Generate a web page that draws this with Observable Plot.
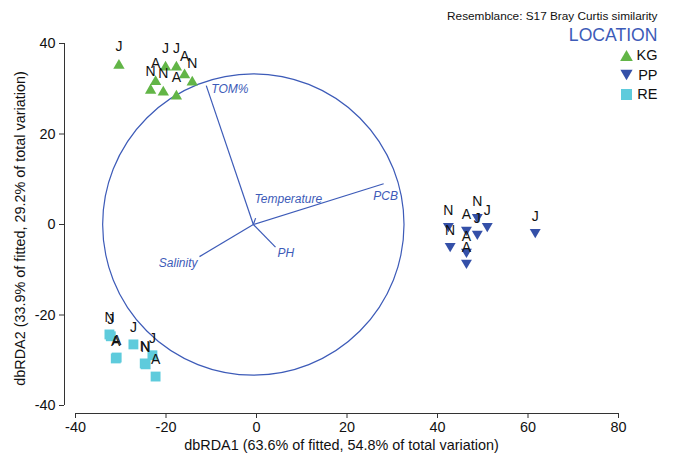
<!DOCTYPE html>
<html>
<head>
<meta charset="utf-8">
<script src="https://cdn.jsdelivr.net/npm/d3@7"></script>
<script src="https://cdn.jsdelivr.net/npm/@observablehq/plot@0.6"></script>
<style>
  html, body { margin: 0; padding: 0; background: #fff; }
  #chart svg { display: block; }
</style>
</head>
<body>
<div id="chart"></div>
<script>
// ---------- data ----------
const locations = ["KG", "PP", "RE"];

const kgX = [-30.4, -20.1, -17.7, -15.9, -14.2, -22.3, -23.4, -20.6, -17.7];
const kgY = [35.5, 35.1, 35.1, 33.4, 31.8, 31.9, 30.0, 29.6, 28.7];
const kgMonth = ["J", "J", "J", "A", "N", "A", "N", "N", "A"];

const ppX = [42.4, 42.8, 46.4, 46.4, 46.4, 48.8, 48.8, 51.0, 61.6];
const ppY = [-0.7, -5.1, -1.5, -6.4, -8.8, 1.3, -2.4, -0.7, -2.0];
const ppMonth = ["N", "N", "A", "A", "A", "N", "J", "J", "J"];

const reX = [-32.5, -32.2, -30.9, -31.1, -27.2, -24.7, -24.5, -23.0, -22.3];
const reY = [-24.3, -24.7, -29.4, -29.6, -26.5, -30.7, -30.9, -28.9, -33.6];
const reMonth = ["N", "J", "A", "A", "J", "N", "N", "J", "A"];

const vectorNames = ["TOM%", "Temperature", "PCB", "Salinity", "PH"];
const vectorX = [-10.4, 0.5, 28.8, -11.9, 4.9];
const vectorY = [30.7, 1.4, 9.0, -7.1, -5.0];
const originX = -0.7, originY = 0;
const circleRadius = 33.3;

const xTicks = [-40, -20, 0, 20, 40, 60, 80];
const yTicks = [-40, -20, 0, 20, 40];
const xLabel = "dbRDA1 (63.6% of fitted, 54.8% of total variation)";
const yLabel = "dbRDA2 (33.9% of fitted, 29.2% of total variation)";
const resemblanceText = "Resemblance: S17 Bray Curtis similarity";
const legendTitle = "LOCATION";

// ---------- styles ----------
const colors = {KG: "#62b547", PP: "#3450a8", RE: "#5ecbdc"};
const vecColor = "#3d5bb8";
const font = "'Liberation Sans', Arial, Helvetica, sans-serif";

const triUp = {draw(ctx, size) { const r = Math.sqrt(size / Math.PI); const w = 2.7 * r, h = 2.35 * r;
  ctx.moveTo(0, -h / 2); ctx.lineTo(w / 2, h / 2); ctx.lineTo(-w / 2, h / 2); ctx.closePath(); }};
const triDown = {draw(ctx, size) { const r = Math.sqrt(size / Math.PI); const w = 2.6 * r, h = 2.2 * r;
  ctx.moveTo(0, h / 2); ctx.lineTo(w / 2, -h / 2); ctx.lineTo(-w / 2, -h / 2); ctx.closePath(); }};
const square = {draw(ctx, size) { const r = Math.sqrt(size / Math.PI); const s = 2.35 * r;
  ctx.rect(-s / 2, -s / 2, s, s); }};
const symbols = {KG: triUp, PP: triDown, RE: square};

const build = (loc, xs, ys, ms) => xs.map((x, i) => ({location: loc, x, y: ys[i], month: ms[i]}));
const points = [
  ...build("KG", kgX, kgY, kgMonth),
  ...build("PP", ppX, ppY, ppMonth),
  ...build("RE", reX, reY, reMonth)
];
const vectors = vectorNames.map((name, i) => ({name, x: originX + vectorX[i], y: originY + vectorY[i]}));
const vecLabelStyle = {
  "TOM%": {textAnchor: "start", dx: 5, dy: 4},
  "Temperature": {textAnchor: "start", dx: -1, dy: -19},
  "PCB": {textAnchor: "middle", dx: 2, dy: 12},
  "Salinity": {textAnchor: "end", dx: -2, dy: 7},
  "PH": {textAnchor: "start", dx: 2, dy: 6}
};

// ---------- layout ----------
const W = 675, H = 455;
const mL = 64, mR = 57, mT = 43, mB = 42, insL = 11, insB = 8;
const xDomain = [-40, 80], yDomain = [-40, 40];
const pxPerUnit = (W - mL - mR - insL) / (xDomain[1] - xDomain[0]);
const fmt = d => String(d);

const marks = [];
// axis lines (detached)
marks.push(Plot.ruleY([yDomain[0]], {dy: insB, insetLeft: insL, stroke: "#333", strokeWidth: 1}));
marks.push(Plot.ruleX([xDomain[0]], {dx: -insL, insetBottom: insB, stroke: "#333", strokeWidth: 1}));
marks.push(Plot.axisX({ticks: xTicks, tickFormat: fmt, tickSize: 5, tickPadding: 3, fontSize: 14.4, stroke: "#333",
  label: xLabel, labelAnchor: "center", labelOffset: 36, labelArrow: "none"}));
marks.push(Plot.axisY({ticks: yTicks, tickFormat: fmt, tickSize: 5, tickPadding: 4, fontSize: 14.4, stroke: "#333",
  label: yLabel, labelAnchor: "center", labelOffset: 50, labelArrow: "none"}));

// circle and vectors
marks.push(Plot.dot([{x: originX, y: originY}], {x: "x", y: "y", r: circleRadius * pxPerUnit,
  fill: "none", stroke: vecColor, strokeWidth: 1.2}));
marks.push(Plot.link(vectors, {x1: () => originX, y1: () => originY, x2: "x", y2: "y",
  stroke: vecColor, strokeWidth: 1.2}));
for (const v of vectors) {
  marks.push(Plot.text([v], {x: "x", y: "y", text: "name", fill: vecColor, fontStyle: "italic",
    fontSize: 12, ...vecLabelStyle[v.name]}));
}

// points
for (const loc of locations) {
  marks.push(Plot.dot(points.filter(d => d.location === loc), {x: "x", y: "y", symbol: symbols[loc],
    fill: colors[loc], r: 4.2, stroke: "none"}));
}
marks.push(Plot.text(points, {x: "x", y: "y", text: "month", dy: -17, fontSize: 14, fill: "#111"}));

// legend / annotations
const legendText = {frameAnchor: "top-right", text: d => d, textAnchor: "end", lineAnchor: "middle", dx: 39};
marks.push(Plot.text([resemblanceText], {...legendText, dy: -27, fontSize: 11.8, fill: "#111"}));
marks.push(Plot.text([legendTitle], {...legendText, dy: -8, fontSize: 17.6, fill: vecColor}));
locations.forEach((loc, i) => {
  marks.push(Plot.dot([loc], {frameAnchor: "top-right", dx: 8, dy: 12 + 19.5 * i,
    symbol: symbols[loc], fill: colors[loc], r: 4.7}));
  marks.push(Plot.text([loc], {...legendText, dy: 12 + 19.5 * i, fontSize: 14.5, fill: "#111"}));
});

const chart = Plot.plot({
  width: W, height: H,
  marginLeft: mL, marginRight: mR, marginTop: mT, marginBottom: mB,
  style: {fontFamily: font, background: "#fff", color: "#111"},
  x: {domain: xDomain, insetLeft: insL},
  y: {domain: yDomain, insetBottom: insB},
  marks
});
document.getElementById("chart").appendChild(chart);
</script>
</body>
</html>
